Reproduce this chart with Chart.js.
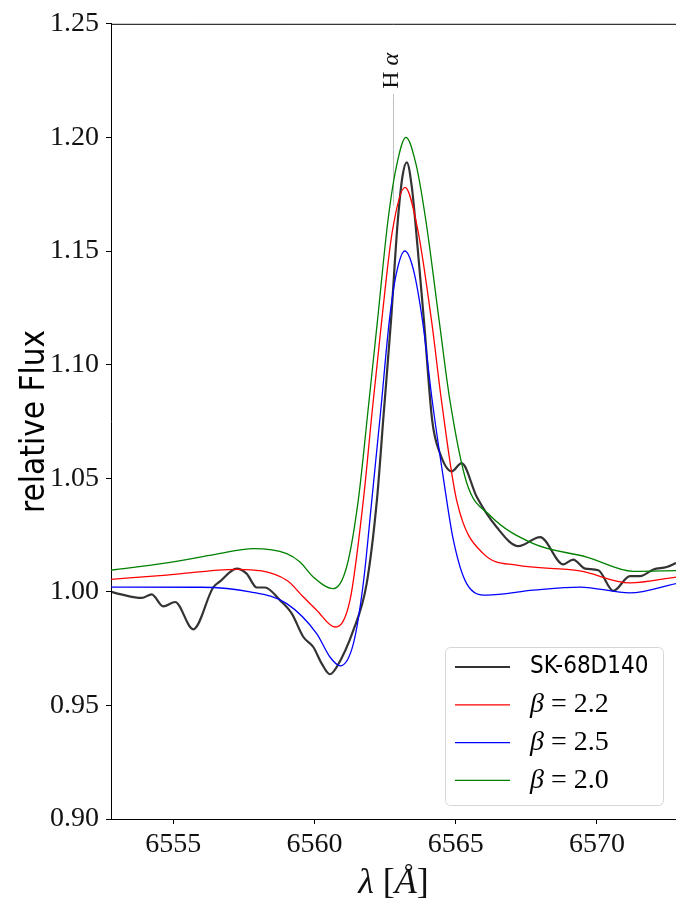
<!DOCTYPE html>
<html>
<head>
<meta charset="utf-8">
<script src="https://cdn.jsdelivr.net/npm/chart.js@4/dist/chart.umd.min.js"></script>
<style>
  html, body { margin: 0; padding: 0; background: #fff; }
  canvas { display: block; }
</style>
</head>
<body>
<canvas id="specCanvas" width="676" height="899"></canvas>
<script>
const obsWave = [6552.80, 6553.12, 6553.89, 6554.24, 6554.65, 6555.07, 6555.71, 6556.42, 6556.66, 6557.25,
    6557.60, 6557.96, 6558.25, 6558.78, 6559.20, 6559.61, 6559.96, 6560.26, 6560.55, 6560.79,
    6561.38, 6561.85, 6562.21, 6562.45, 6562.71, 6562.95, 6563.12, 6563.27, 6563.45, 6563.65,
    6563.88, 6564.17, 6564.45, 6564.86, 6565.21, 6565.75, 6566.45, 6567.22, 6567.99, 6568.81,
    6569.16, 6569.58, 6570.05, 6570.58, 6571.17, 6571.53, 6572.00, 6572.47, 6572.80];
const obsFlux = [1.000, 0.999, 0.9973, 0.9989, 0.9936, 0.9955, 0.9835, 1.002, 1.0046, 1.0102,
    1.008, 1.0019, 1.0019, 0.9963, 0.9904, 0.9801, 0.9757, 0.9684, 0.9637, 0.9669,
    0.9831, 1.0036, 1.040, 1.078, 1.119, 1.163, 1.183, 1.189, 1.178, 1.152,
    1.119, 1.0754, 1.0608, 1.053, 1.0566, 1.0417, 1.0285, 1.0201, 1.0241, 1.0121,
    1.0142, 1.0102, 1.0095, 1.0004, 1.0069, 1.0069, 1.0098, 1.0109, 1.0127];

const beta22Wave = [6552.80, 6554.77, 6557.25, 6559.02, 6559.61, 6560.08, 6560.73, 6561.26, 6561.73, 6562.05,
    6562.38, 6562.75, 6563.21, 6563.65, 6564.15, 6564.50, 6565.04, 6565.98, 6567.16, 6569.40,
    6571.17, 6572.80];
const beta22Flux = [1.0055, 1.0073, 1.0099, 1.0051, 0.9977, 0.9919, 0.9845, 0.9963, 1.040, 1.080,
    1.119, 1.158, 1.178, 1.160, 1.119, 1.084, 1.040, 1.0168, 1.0117, 1.0092,
    1.0039, 1.0065];

const beta25Wave = [6552.80, 6555.95, 6557.72, 6559.02, 6560.08, 6560.55, 6560.91, 6561.38, 6561.73, 6562.03,
    6562.35, 6562.65, 6562.90, 6563.20, 6563.50, 6563.83, 6564.17, 6564.56, 6564.92, 6565.39,
    6566.10, 6567.75, 6569.40, 6571.17, 6572.80];
const beta25Flux = [1.0021, 1.002, 1.000, 0.9948, 0.9816, 0.9713, 0.9674, 0.9772, 1.0036, 1.040,
    1.080, 1.119, 1.140, 1.150, 1.142, 1.119, 1.0842, 1.0505, 1.0227, 1.0036,
    0.9985, 1.0007, 1.0021, 0.9995, 1.0036];

const beta20Wave = [6552.80, 6554.77, 6556.50, 6557.84, 6559.02, 6559.49, 6559.96, 6560.67, 6561.14, 6561.55,
    6561.90, 6562.23, 6562.60, 6562.90, 6563.24, 6563.60, 6563.95, 6564.42, 6564.80, 6565.39,
    6566.22, 6567.75, 6569.64, 6571.29, 6572.80];
const beta20Flux = [1.0095, 1.0127, 1.0165, 1.019, 1.0168, 1.0131, 1.0065, 1.0014, 1.0109, 1.040,
    1.080, 1.119, 1.163, 1.187, 1.200, 1.188, 1.163, 1.119, 1.084, 1.048,
    1.0336, 1.0212, 1.0153, 1.009, 1.0093];

const seriesLabels = ['SK-68D140', 'β = 2.2', 'β = 2.5', 'β = 2.0'];

// H alpha rest wavelength marker
const lineWave = 6562.8;
const lineFluxTop = 1.2192;
const lineFluxBottom = 1.17;
const lineLabelFlux = 1.2214;

const xMin = 6552.8, xMax = 6572.8;
const yMin = 0.90, yMax = 1.25;
const xTicks = [6555, 6560, 6565, 6570];
const yTicks = [0.90, 0.95, 1.00, 1.05, 1.10, 1.15, 1.20, 1.25];

const toPoints = (xs, ys) => xs.map((x, i) => ({ x: x, y: ys[i] }));

const serif = "'Liberation Serif', 'DejaVu Serif', serif";
const sansCond = "'DejaVu Sans Condensed', 'DejaVu Sans', sans-serif";

// draw a run of [text, italic] pieces starting at x
function drawPieces(ctx, pieces, x, y, size) {
    let cx = x;
    pieces.forEach(([txt, italic]) => {
        ctx.font = (italic ? 'italic ' : '') + size + 'px ' + serif;
        ctx.fillText(txt, cx, y);
        cx += ctx.measureText(txt).width;
    });
}
function piecesWidth(ctx, pieces, size) {
    return pieces.reduce((w, [txt, italic]) => {
        ctx.font = (italic ? 'italic ' : '') + size + 'px ' + serif;
        return w + ctx.measureText(txt).width;
    }, 0);
}

// top spine (matplotlib style box, right side is cut by the figure edge)
const topSpine = {
    id: 'topSpine',
    afterDraw(chart) {
        const { ctx, chartArea } = chart;
        ctx.save();
        ctx.strokeStyle = '#000';
        ctx.lineWidth = 1;
        ctx.beginPath();
        ctx.moveTo(chartArea.left, chartArea.top + 0.5);
        ctx.lineTo(chartArea.right, chartArea.top + 0.5);
        ctx.stroke();
        ctx.restore();
    }
};

// x axis label with upright brackets: λ [Å]
const xLabel = {
    id: 'xLabel',
    afterDraw(chart) {
        const { ctx, chartArea } = chart;
        const pieces = [['λ', true], [' [', false], ['Å', true], [']', false]];
        const size = 36;
        ctx.save();
        ctx.fillStyle = '#111';
        ctx.textBaseline = 'middle';
        ctx.textAlign = 'left';
        const w = piecesWidth(ctx, pieces, size);
        const cx = (chartArea.left + chartArea.right) / 2;
        drawPieces(ctx, pieces, cx - w / 2, chartArea.bottom + 65, size);
        ctx.restore();
    }
};

// "H α" annotation above the marker line
const lineLabel = {
    id: 'lineLabel',
    afterDatasetsDraw(chart) {
        const { ctx, scales } = chart;
        const px = scales.x.getPixelForValue(lineWave);
        const py = scales.y.getPixelForValue(lineLabelFlux);
        ctx.save();
        ctx.translate(px - 2, py);
        ctx.rotate(-Math.PI / 2);
        ctx.fillStyle = '#111';
        ctx.textBaseline = 'middle';
        ctx.textAlign = 'left';
        drawPieces(ctx, [['H ', false], ['α', true]], 0, 0, 24);
        ctx.restore();
    }
};

// legend box in the lower right corner
const cornerLegend = {
    id: 'cornerLegend',
    afterDraw(chart) {
        const { ctx, chartArea } = chart;
        const boxW = 218, boxH = 158;
        const x0 = chartArea.right - 13 - boxW;
        const y0 = chartArea.bottom - 14 - boxH;
        ctx.save();
        ctx.beginPath();
        ctx.roundRect(x0 + 0.5, y0 + 0.5, boxW, boxH, 5);
        ctx.fillStyle = 'rgba(255,255,255,0.8)';
        ctx.fill();
        ctx.strokeStyle = '#d6d6d6';
        ctx.lineWidth = 1;
        ctx.stroke();

        const items = chart.data.datasets.filter(d => d.inLegend);
        items.forEach((ds, i) => {
            const y = y0 + 20 + i * 37.8;
            ctx.beginPath();
            ctx.moveTo(x0 + 10, y);
            ctx.lineTo(x0 + 65, y);
            ctx.strokeStyle = ds.borderColor;
            ctx.lineWidth = ds.borderWidth;
            ctx.stroke();

            ctx.fillStyle = '#000';
            ctx.textBaseline = 'middle';
            ctx.textAlign = 'left';
            const tx = x0 + 85;
            if (ds.label.startsWith('β')) {
                drawPieces(ctx, [['β', true], [ds.label.slice(1), false]], tx, y, 28);
            } else {
                ctx.font = '24px ' + sansCond;
                ctx.fillText(ds.label, tx, y);
            }
        });
        ctx.restore();
    }
};

const canvas = document.getElementById('specCanvas');

new Chart(canvas, {
    type: 'line',
    data: {
        datasets: [
            {
                label: seriesLabels[0], inLegend: true, order: 4,
                data: toPoints(obsWave, obsFlux),
                borderColor: 'rgba(0,0,0,0.8)', borderWidth: 2.2
            },
            {
                label: seriesLabels[1], inLegend: true, order: 3,
                data: toPoints(beta22Wave, beta22Flux),
                borderColor: '#ff0000', borderWidth: 1.3
            },
            {
                label: seriesLabels[2], inLegend: true, order: 2,
                data: toPoints(beta25Wave, beta25Flux),
                borderColor: '#0000ff', borderWidth: 1.3
            },
            {
                label: seriesLabels[3], inLegend: true, order: 1,
                data: toPoints(beta20Wave, beta20Flux),
                borderColor: '#008000', borderWidth: 1.3
            },
            {
                label: 'H alpha', inLegend: false, order: 5,
                data: [{ x: lineWave, y: lineFluxTop }, { x: lineWave, y: lineFluxBottom }],
                borderColor: '#bdbdbd', borderWidth: 1
            }
        ]
    },
    options: {
        responsive: false,
        animation: false,
        events: [],
        layout: { padding: { top: 23, right: 0, bottom: 0, left: 0 } },
        elements: {
            point: { radius: 0 },
            line: { cubicInterpolationMode: 'monotone', fill: false }
        },
        plugins: {
            legend: { display: false },
            tooltip: { enabled: false }
        },
        scales: {
            x: {
                type: 'linear',
                min: xMin,
                max: xMax,
                afterBuildTicks: axis => { axis.ticks = xTicks.map(v => ({ value: v })); },
                afterFit: axis => { axis.height = 80; },
                grid: { drawOnChartArea: false, drawTicks: true, tickLength: 5, color: '#000' },
                border: { display: true, color: '#000', width: 1 },
                ticks: {
                    color: '#111',
                    padding: 4,
                    maxRotation: 0,
                    font: { family: serif, size: 28 },
                    callback: v => String(v)
                }
            },
            y: {
                type: 'linear',
                min: yMin,
                max: yMax,
                afterBuildTicks: axis => { axis.ticks = yTicks.map(v => ({ value: v })); },
                afterFit: axis => { axis.width = 111; },
                grid: { drawOnChartArea: false, drawTicks: true, tickLength: 5, color: '#000' },
                border: { display: true, color: '#000', width: 1 },
                ticks: {
                    color: '#111',
                    padding: 7,
                    font: { family: serif, size: 28 },
                    callback: v => Number(v).toFixed(2)
                },
                title: {
                    display: true,
                    text: 'relative Flux',
                    color: '#000',
                    padding: { top: 19, bottom: 0 },
                    font: { family: sansCond, size: 33, lineHeight: 1 }
                }
            }
        }
    },
    plugins: [topSpine, xLabel, lineLabel, cornerLegend]
});
</script>
</body>
</html>
